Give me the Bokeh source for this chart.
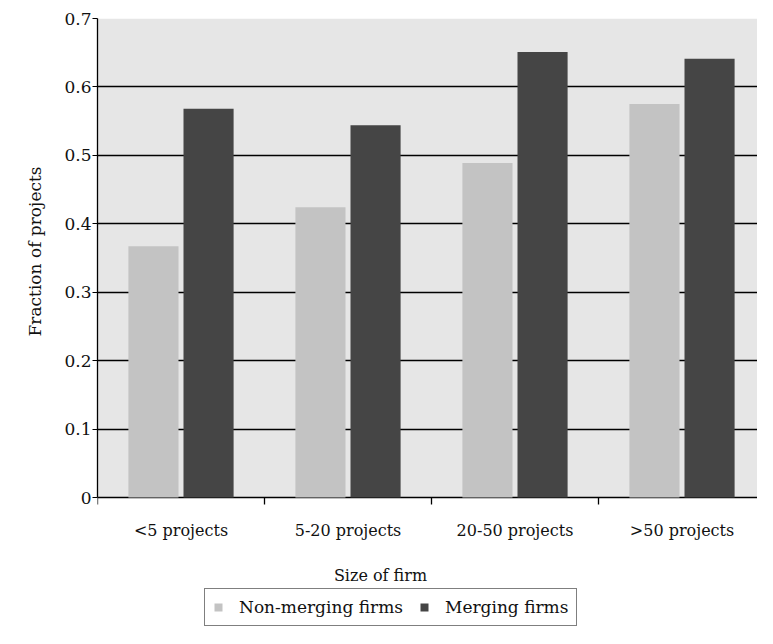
from bokeh.plotting import figure
from bokeh.models import (Range1d, FixedTicker, Legend, LegendItem, ColumnDataSource,
                          BoxAnnotation, Label, Title)
from bokeh.embed import file_html
from bokeh.resources import INLINE
from bokeh.transform import dodge
from bokeh.core.properties import value

categories = ["<5 projects", "5-20 projects", "20-50 projects", ">50 projects"]
non_merging = [0.367, 0.424, 0.489, 0.575]
merging = [0.568, 0.544, 0.651, 0.641]
y_ticks = [0, 0.1, 0.2, 0.3, 0.4, 0.5, 0.6, 0.7]
y_tick_labels = ["0", "0.1", "0.2", "0.3", "0.4", "0.5", "0.6", "0.7"]
series_names = ["Non-merging firms", "Merging firms"]
x_title = "Size of firm"
y_title = "Fraction of projects"

FONT = "DejaVu Serif"
TXT = "#111111"
n = len(categories)
y_top = 0.7
LEFT, TOP, W, H = 97, 18, 757, 628
px = y_top / 479.0              # data units per screen pixel (479 px for 0..0.7)
y_bottom = -(H - TOP - 479) * px  # extra room below the axis for labels and legend
cat_px = 167.0                   # screen width of one category
x_end = (W - LEFT) / cat_px

centers = [i + 0.5 for i in range(n)]
bounds = list(range(n))
source = ColumnDataSource(dict(x=centers, non=non_merging, mer=merging, cat=categories))

p = figure(width=W, height=H, x_range=Range1d(0, x_end), y_range=Range1d(y_bottom, y_top),
           output_backend="svg", toolbar_location=None, x_axis_location=None,
           min_border_left=LEFT, min_border_top=TOP, min_border_right=0, min_border_bottom=0)

p.background_fill_color = "white"
p.border_fill_color = "white"
p.outline_line_color = None

# plot area shading (0 .. 0.7)
p.add_layout(BoxAnnotation(bottom=0, top=y_top, fill_color="#e6e6e6", fill_alpha=1,
                           line_color=None, level="image"))

r1 = p.vbar(x=dodge("x", -0.165), top="non", width=0.3, source=source,
            fill_color="#c3c3c3", line_color=None)
r2 = p.vbar(x=dodge("x", 0.165), top="mer", width=0.3, source=source,
            fill_color="#454545", line_color=None)

p.xgrid.grid_line_color = None
p.ygrid.ticker = FixedTicker(ticks=y_ticks)
p.ygrid.grid_line_color = "black"
p.ygrid.grid_line_width = 1.3

# category tick marks at group boundaries
p.segment(x0=bounds, y0=[0] * n, x1=bounds, y1=[-7 * px] * n,
          line_color="black", line_width=1.3)

# category labels
p.text(x="x", y=-33 * px, text="cat", source=source, text_font=value(FONT),
       text_font_size="16px", text_align="center", text_baseline="middle",
       text_color=TXT)

p.add_layout(Label(x=(380 - LEFT) / cat_px, y=-78 * px, text=x_title, text_font=FONT,
                   text_font_size="16px", text_align="center", text_baseline="middle",
                   text_color=TXT))

yax = p.yaxis[0]
yax.bounds = (0, y_top)
yax.ticker = FixedTicker(ticks=y_ticks)
yax.major_label_overrides = {t: l for t, l in zip(y_ticks, y_tick_labels)}
yax.minor_tick_line_color = None
yax.major_tick_out = 5
yax.major_tick_in = 0
yax.major_label_standoff = 1
yax.axis_line_color = "black"
yax.axis_line_width = 1.3
yax.major_tick_line_color = "black"
yax.major_label_text_font = FONT
yax.major_label_text_font_size = "17px"
yax.major_label_text_color = TXT

ytitle = Title(text=y_title, align="left", offset=292, standoff=33,
               text_font=FONT, text_font_size="17px", text_font_style="normal",
               text_color=TXT)
p.add_layout(ytitle, "left")

legend = Legend(items=[LegendItem(label=series_names[0], renderers=[r1]),
                       LegendItem(label=series_names[1], renderers=[r2])],
                orientation="horizontal", location=(107, 2))
legend.border_line_color = "black"
legend.border_line_width = 1
legend.background_fill_color = "white"
legend.background_fill_alpha = 1
legend.label_text_font = FONT
legend.label_text_font_size = "17px"
legend.label_text_color = TXT
legend.glyph_width = 10
legend.glyph_height = 10
legend.label_standoff = 16
legend.spacing = 16
legend.padding = 8
legend.margin = 0
p.add_layout(legend)

open("out.html", "w").write(file_html(p, INLINE))
